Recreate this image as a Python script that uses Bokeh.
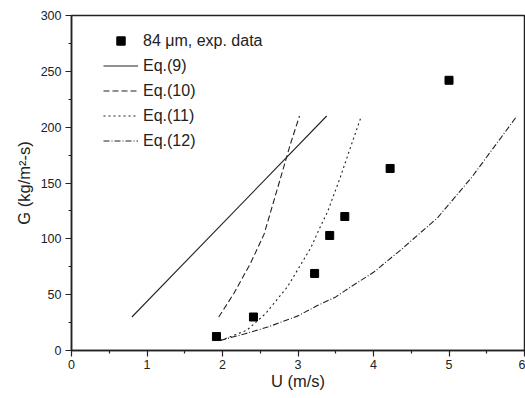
from bokeh.plotting import figure
from bokeh.embed import file_html
from bokeh.resources import INLINE
from bokeh.models import Legend, LegendItem, Range1d, FixedTicker

# experimental data
exp_u = [1.92, 2.41, 3.22, 3.42, 3.62, 4.22, 5.0]
exp_g = [12.5, 30, 69, 103, 120, 163, 242]

# Eq.(9)
eq9_u = [0.8, 3.38]
eq9_g = [30, 210]

# Eq.(10)
eq10_u = [1.95, 2.15, 2.37, 2.55, 2.68, 2.81, 2.9, 3.02]
eq10_g = [30, 51, 78, 104, 134, 164, 185, 210]

# Eq.(11)
eq11_u = [1.97, 2.32, 2.57, 2.86, 3.17, 3.29, 3.39, 3.56, 3.68, 3.84]
eq11_g = [9, 18, 33, 57, 92, 110, 124, 155, 179, 210]

# Eq.(12)
eq12_u = [1.97, 2.3, 2.6, 3.0, 3.25, 3.5, 3.7, 4.0, 4.36, 4.85, 5.3, 5.9]
eq12_g = [9, 15, 21, 31, 40, 48, 57, 70, 90, 119, 155, 210]

x_ticks = [0, 1, 2, 3, 4, 5, 6]
y_ticks = [0, 50, 100, 150, 200, 250, 300]

FONT = "Liberation Sans"

p = figure(width=525, height=398, output_backend="svg", toolbar_location=None,
           x_range=Range1d(0, 6), y_range=Range1d(0, 300),
           min_border_left=71, min_border_right=1, min_border_top=15, min_border_bottom=48)
p.grid.visible = False
p.background_fill_color = "white"
p.border_fill_color = "white"
p.outline_line_color = "#222222"
p.outline_line_width = 1.5

for ax in (p.xaxis[0], p.yaxis[0]):
    ax.axis_line_color = "#222222"
    ax.axis_line_width = 1.5
    ax.major_tick_line_color = "#222222"
    ax.minor_tick_line_color = "#222222"
    ax.major_tick_line_width = 1.2
    ax.minor_tick_line_width = 1.2
    ax.major_tick_out = 6
    ax.major_tick_in = 0
    ax.minor_tick_out = 3
    ax.minor_tick_in = 0
    ax.major_label_text_font = FONT
    ax.major_label_text_font_size = "12.5px"
    ax.major_label_text_color = "#222222"
    ax.axis_label_text_font = FONT
    ax.axis_label_text_font_size = "16.5px"
    ax.axis_label_text_font_style = "normal"
    ax.axis_label_text_color = "#222222"

p.xaxis[0].ticker = FixedTicker(ticks=x_ticks, minor_ticks=[x + 0.5 for x in x_ticks[:-1]])
p.yaxis[0].ticker = FixedTicker(ticks=y_ticks, minor_ticks=[y + 25 for y in y_ticks[:-1]])
p.xaxis[0].axis_label = "U (m/s)"
p.yaxis[0].axis_label = "G (kg/m²-s)"
p.xaxis[0].major_label_standoff = 3
p.xaxis[0].axis_label_standoff = 0
p.yaxis[0].major_label_standoff = 4
p.yaxis[0].axis_label_standoff = 5

r_exp = p.scatter(exp_u, exp_g, marker="square", size=8, color="black")
r9 = p.line(eq9_u, eq9_g, line_color="#222222", line_width=1.1)
r10 = p.line(eq10_u, eq10_g, line_color="#222222", line_width=1.1, line_dash="6 3")
r11 = p.line(eq11_u, eq11_g, line_color="#222222", line_width=1.1, line_dash="2 3")
r12 = p.line(eq12_u, eq12_g, line_color="#222222", line_width=1.1, line_dash="6 2 1 2")

legend = Legend(items=[
    LegendItem(label="84 μm, exp. data", renderers=[r_exp]),
    LegendItem(label="Eq.(9)", renderers=[r9]),
    LegendItem(label="Eq.(10)", renderers=[r10]),
    LegendItem(label="Eq.(11)", renderers=[r11]),
    LegendItem(label="Eq.(12)", renderers=[r12]),
], location=(32, 199), padding=0, spacing=4, glyph_width=35, glyph_height=21,
    label_standoff=5, label_text_font=FONT, label_text_font_size="16px",
    label_text_color="#222222", border_line_color=None, background_fill_alpha=0)
p.add_layout(legend)

open("out.html", "w").write(file_html(p, INLINE))
